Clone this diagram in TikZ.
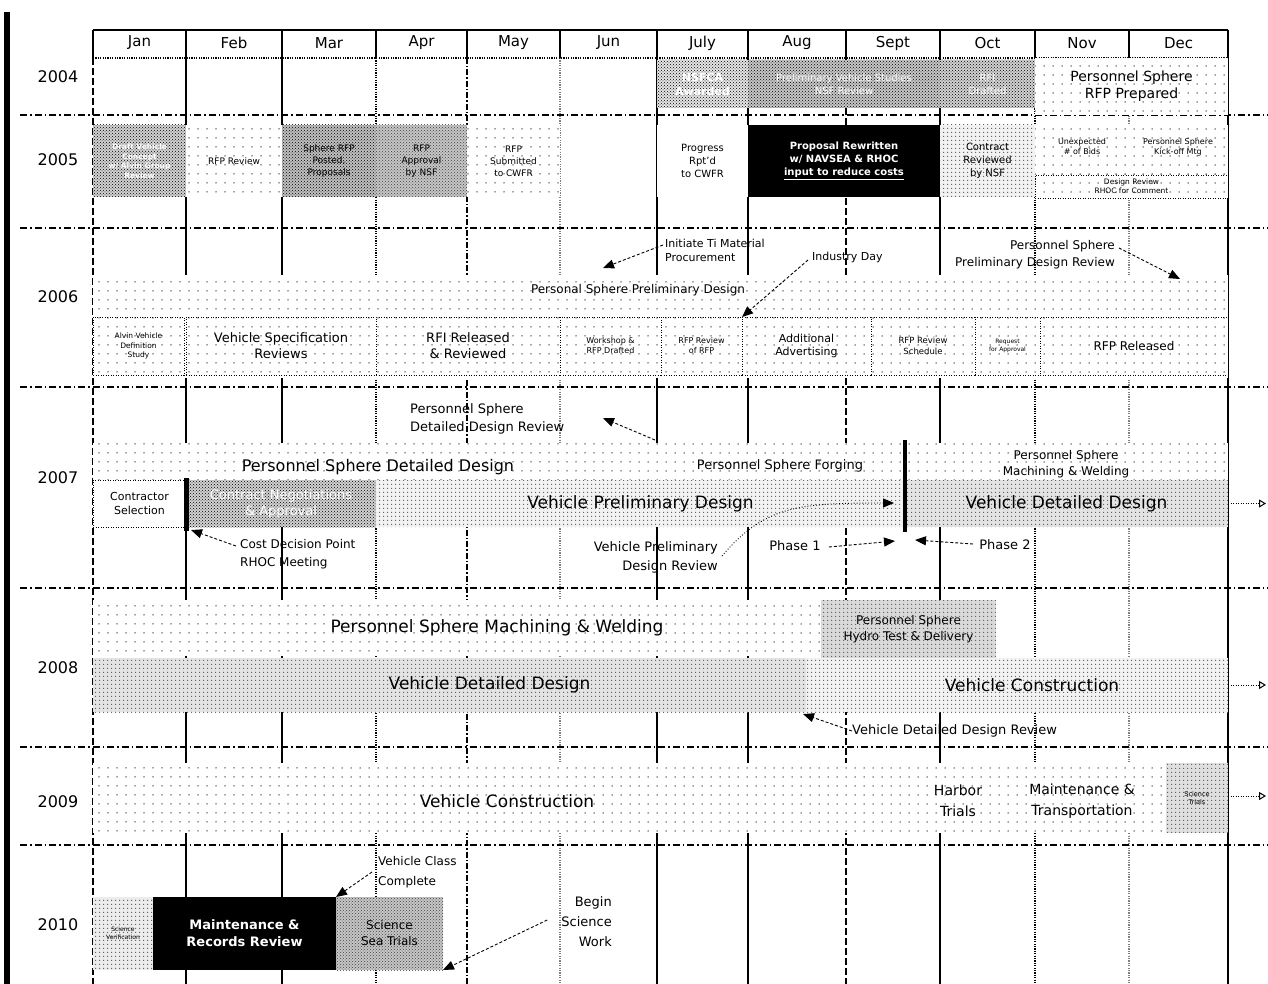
\documentclass[tikz,border=0pt]{standalone}
\usepackage{fontspec}
\setmainfont{DejaVu Sans}
\usetikzlibrary{patterns,patterns.meta,arrows.meta}
\newcommand{\sz}[2]{\fontsize{#1}{#2}\selectfont}
\newcommand{\bx}[7]{\node[#5, anchor=north west, inner sep=0pt, outer sep=0pt, minimum width={(#3)-(#1)}, minimum height={(#4)-(#2)}, align=center] (#6) at (#1,#2) {#7};}
\tikzset{
  gsol/.style={line width=1.4pt},
  gdsh/.style={line width=1.4pt, dash pattern=on 7pt off 3pt},
  gdot/.style={line width=1.8pt, dash pattern=on 1.2pt off 1.2pt},
  gdd/.style={line width=1.4pt, dash pattern=on 6pt off 2pt on 1.5pt off 2pt},
  ggr/.style={line width=1.8pt, gray, dash pattern=on 1.2pt off 1.2pt},
  sep/.style={line width=1.3pt, dash pattern=on 7pt off 3pt on 1.5pt off 3pt},
  lt/.style={preaction={fill=white}, pattern={Dots[distance=9pt,radius=0.75pt]}, pattern color=black!75},
  md/.style={preaction={fill=gray!10}, pattern={Dots[distance=4pt,radius=0.8pt]}, pattern color=black!65},
  xh/.style={preaction={fill=gray!45}, pattern=crosshatch dots, pattern color=black!75},
  dk/.style={preaction={fill=gray!35}, pattern=crosshatch dots, pattern color=black},
  blk/.style={fill=black, text=white, font=\bfseries},
  wt/.style={fill=white},
  dbord/.style={draw, line width=0.9pt, dash pattern=on 1pt off 1.5pt},
  yr/.style={font=\sz{16}{18}, inner sep=0pt},
  mon/.style={font=\sz{15}{17}, inner sep=0pt},
  lbl/.style={align=center, inner sep=0pt},
  ann/.style={densely dashed, line width=0.9pt, -{Triangle[length=11pt,width=9pt]}},
  dotarr/.style={line width=1pt, dash pattern=on 1pt off 1.5pt, -{Triangle[open,length=7pt,width=8pt]}},
}
\begin{document}
\begin{tikzpicture}[x=1pt,y=-1pt]
\useasboundingbox (0,0) rectangle (1268,984);
\fill[white] (0,0) rectangle (1268,984);
% left bar
\fill[black] (4,12) rectangle (10,984);

% ---------- grid ----------
\foreach \x/\s in {93/gdsh,186/gsol,282/gsol,376/gdot,467/gdd,560/ggr,657/gsol,748/gsol,846/gdsh,940/gsol,1035/gdot,1129/ggr,1228/gsol}{
  \draw[\s] (\x,58) -- (\x,984);
  \draw[gsol] (\x,30) -- (\x,58);
}
\draw[line width=1.4pt] (93,30) -- (1228,30);
\draw[gdot] (93,58) -- (1228,58);
\foreach \y in {115,228,387,588,747,845}{
  \draw[sep] (20,\y) -- (1268,\y);
}

% months
\foreach \x/\m [count=\i] in {139.5/Jan,234/Feb,329/Mar,421.5/Apr,513.5/May,608.5/Jun,702.5/July,797/Aug,893/Sept,987.5/Oct,1082/Nov,1178.5/Dec}{
  \node[mon] (m\i) at (\x,43) {\m};
}
% years
\node[yr] (y2004) at (58,77) {2004};
\node[yr] (y2005) at (58,160) {2005};
\node[yr] (y2006) at (58,297) {2006};
\node[yr] (y2007) at (58,478) {2007};
\node[yr] (y2008) at (58,668) {2008};
\node[yr] (y2009) at (58,802) {2009};
\node[yr] (y2010) at (58,925) {2010};

% ---------- 2004 ----------
\bx{657}{60}{748}{108}{dk,preaction={fill=gray!20},text=white,font=\bfseries\sz{11}{14}}{nsf}{NSFCA\\Awarded}
\bx{748}{60}{940}{108}{dk,preaction={fill=gray!45},text=white,font=\sz{10}{13}}{vstudy}{Preliminary Vehicle Studies\\NSF Review}
\bx{940}{60}{1035}{108}{dk,text=white,font=\sz{10}{13}}{rfi}{RFI\\Drafted}
\bx{1035}{58}{1228}{115}{lt,font=\sz{14}{17}}{psrfp}{Personnel Sphere\\RFP Prepared}

% ---------- 2005 ----------
\bx{93}{125}{186}{197}{dk,text=white,font=\bfseries\sz{7.5}{9.5}}{drv}{Draft Vehicle\\Concept\\w/ Alvin Group\\Review}
\bx{186}{125}{282}{197}{lt,font=\sz{9}{11}}{rfprev}{RFP Review}
\bx{282}{125}{376}{197}{dk,preaction={fill=gray!50},font=\sz{9}{12}}{sphrfp}{Sphere RFP\\Posted,\\Proposals}
\bx{376}{125}{467}{197}{xh,font=\sz{9}{12}}{rfpapp}{RFP\\Approval\\by NSF}
\bx{467}{125}{560}{197}{lt,font=\sz{9}{12}}{rfpsub}{RFP\\Submitted\\to CWFR}
\bx{657}{125}{748}{197}{wt,font=\sz{10}{13}}{prog}{Progress\\Rpt'd\\to CWFR}
\bx{748}{125}{940}{197}{blk,font=\bfseries\sz{10}{13}}{rewr}{Proposal Rewritten\\w/ NAVSEA \& RHOC\\\underline{input to reduce costs}}
\bx{940}{125}{1035}{197}{md,font=\sz{10}{13}}{crev}{Contract\\Reviewed\\by NSF}
\bx{1035}{125}{1228}{175}{lt}{nd05}{}
\node[lbl, font=\sz{8}{10}] (unb) at (1082,147) {Unexpected\\\# of Bids};
\node[lbl, font=\sz{8}{10}] (kick) at (1178,147) {Personnel Sphere\\Kick-off Mtg};
\bx{1035}{175}{1228}{198}{lt,dbord,font=\sz{7.5}{9}}{desrev}{Design Review\\RHOC for Comment}

% ---------- 2006 ----------
\fill[lt] (93,275) rectangle (1228,378);
\node[lbl, font=\sz{12}{14}] (ppd) at (638,290) {Personal Sphere Preliminary Design};
\bx{93}{317}{184}{375}{lt,dbord,font=\sz{7.5}{9.5}}{avd}{Alvin Vehicle\\Definition\\Study}
\bx{186}{317}{376}{375}{lt,dbord,font=\sz{13}{16}}{vsr}{Vehicle Specification\\Reviews}
\bx{376}{317}{560}{375}{lt,dbord,font=\sz{13}{16}}{rfirel}{RFI Released\\\& Reviewed}
\bx{560}{317}{661}{375}{lt,dbord,font=\sz{8}{10}}{wks}{Workshop \&\\RFP Drafted}
\bx{661}{317}{742}{375}{lt,dbord,font=\sz{8}{10}}{rfpr}{RFP Review\\of RFP}
\bx{742}{317}{871}{375}{lt,dbord,font=\sz{11}{13}}{adv}{Additional\\Advertising}
\bx{871}{317}{975}{375}{lt,dbord,font=\sz{8.5}{10.5}}{rsch}{RFP Review\\Schedule}
\bx{975}{317}{1040}{375}{lt,dbord,font=\sz{6}{7.5}}{req}{Request\\for Approval}
\bx{1040}{317}{1228}{375}{lt,dbord,font=\sz{12}{14}}{rfprel}{RFP Released}

\node[lbl, align=left, anchor=west, font=\sz{11}{14}] (tim) at (665,250) {Initiate Ti Material\\Procurement};
\coordinate (timt) at (603,268);
\draw[ann] (tim.west) ++(-2,-5) -- (timt);
\node[lbl, anchor=west, font=\sz{11}{13}] (ind) at (812,257) {Industry Day};
\draw[ann] (ind.west) ++(-4,3) -- (adv.north west);
\node[lbl, align=right, anchor=east, font=\sz{12}{17}] (ppdr) at (1115,255) {Personnel Sphere\\Preliminary Design Review};
\coordinate (ppdrt) at (1180,279);
\draw[ann] (ppdr.east) ++(4,-7) -- (ppdrt);

% ---------- 2007 ----------
\node[lbl, align=left, anchor=west, font=\sz{13}{18}] (psddr) at (410,419) {Personnel Sphere\\Detailed Design Review};
\coordinate (psddrs) at (655,440);
\draw[ann] (psddrs) -- (603,418);
\fill[lt] (93,443) rectangle (1228,480);
\node[lbl, font=\sz{16}{18}] (psdd) at (378,467) {Personnel Sphere Detailed Design};
\node[lbl, font=\sz{13}{15}] (psf) at (780,466) {Personnel Sphere Forging};
\node[lbl, font=\sz{12}{16}] (psmw7) at (1066,464) {Personnel Sphere\\Machining \& Welding};
\bx{93}{480}{186}{527}{wt,dbord,font=\sz{11}{14}}{csel}{Contractor\\Selection}
\bx{186}{480}{376}{527}{dk,text=white,font=\sz{13}{16}}{cna}{Contract Negotiations\\\& Approval}
\bx{376}{480}{905}{527}{md,font=\sz{17}{19}}{vpd}{Vehicle Preliminary Design}
\bx{905}{480}{1228}{527}{md,preaction={fill=gray!22},font=\sz{17}{19}}{vdd7}{Vehicle Detailed Design}
\draw[dotarr] (vdd7.east) -- ++(38,0);
\coordinate (b1t) at (186,478);
\coordinate (b1b) at (186,531);
\draw[line width=5pt] (b1t) -- (b1b);
\coordinate (b2t) at (905,440);
\coordinate (b2b) at (905,532);
\draw[line width=4.5pt] (b2t) -- (b2b);
\node[lbl, align=left, anchor=west, font=\sz{12}{18}] (cdp) at (240,554) {Cost Decision Point\\RHOC Meeting};
\draw[ann] (cdp.west) ++(-4,-8) -- (191,530);
\node[lbl, align=right, anchor=east, font=\sz{13}{19}] (vpdr) at (718,557) {Vehicle Preliminary\\Design Review};
\draw[ann, dotted] (722,556) .. controls (765,505) and (800,503) .. (894,503);
\node[lbl, font=\sz{13}{15}] (ph1) at (795,546) {Phase 1};
\draw[ann] (ph1.east) ++(8,1) -- (895,541);
\node[lbl, font=\sz{13}{15}] (ph2) at (1005,545) {Phase 2};
\draw[ann] (ph2.west) ++(-6,-1) -- (915,540);

% ---------- 2008 ----------
\bx{93}{600}{821}{656}{lt,font=\sz{17}{19}}{psmw8}{\hspace*{80pt}Personnel Sphere Machining \& Welding}
\bx{821}{600}{996}{658}{md,preaction={fill=gray!30},font=\sz{12}{16}}{hydro}{Personnel Sphere\\Hydro Test \& Delivery}
\bx{93}{658}{806}{712}{md,preaction={fill=gray!22},font=\sz{17}{19}}{vdd8}{\hspace*{80pt}Vehicle Detailed Design}
\bx{806}{658}{1228}{712}{md,font=\sz{17}{19}}{vc8}{\hspace*{30pt}Vehicle Construction}
\draw[dotarr] (vc8.east) -- ++(38,0);
\node[lbl, anchor=west, font=\sz{13}{15}] (vddr) at (852,731) {Vehicle Detailed Design Review};
\draw[ann] (vddr.west) -- (803,714);

% ---------- 2009 ----------
\bx{93}{763}{1166}{833}{lt}{vc9}{}
\node[lbl, font=\sz{17}{19}] (vc9t) at (507,801) {Vehicle Construction};
\node[lbl, font=\sz{14}{21}] (ht) at (958,801) {Harbor\\Trials};
\node[lbl, font=\sz{14}{21}] (mt) at (1082,801) {Maintenance \&\\Transportation};
\bx{1166}{763}{1228}{833}{md,preaction={fill=gray!25},font=\sz{6.5}{8}}{st9}{Science\\Trials}
\draw[dotarr] (st9.east) ++(0,-2) -- ++(38,0);

% ---------- 2010 ----------
\bx{93}{897}{153}{970}{md,preaction={fill=gray!15},font=\sz{6}{8}}{sv}{Science\\Verification}
\bx{153}{897}{336}{970}{blk,font=\bfseries\sz{13}{17}}{mrr}{Maintenance \&\\Records Review}
\bx{336}{897}{443}{970}{xh,font=\sz{12}{16}}{sst}{Science\\Sea Trials}
\node[lbl, align=left, anchor=west, font=\sz{12}{20}] (vcc) at (378,872) {Vehicle Class\\Complete};
\draw[ann] (vcc.west) ++(-6,0) -- (mrr.north east);
\node[lbl, align=right, anchor=east, font=\sz{13}{20}] (bsw) at (612,922) {Begin\\Science\\Work};
\draw[ann] (bsw.west) ++(-14,-2) -- (sst.south east);
\end{tikzpicture}
\end{document}
